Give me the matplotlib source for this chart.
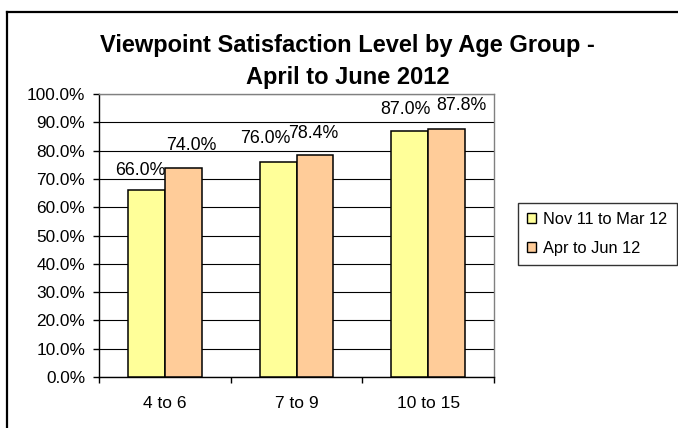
import matplotlib
matplotlib.use("Agg")
import matplotlib.pyplot as plt
from matplotlib.patches import Patch
from matplotlib.lines import Line2D
from matplotlib.ticker import FuncFormatter, MultipleLocator, FixedLocator

# Data
categories = ["4 to 6", "7 to 9", "10 to 15"]
series_names = ["Nov 11 to Mar 12", "Apr to Jun 12"]
nov_mar = [66.0, 76.0, 87.0]
apr_jun = [74.0, 78.4, 87.8]

# Styling
colors = ["#FFFF99", "#FFCC99"]
label_nudges = [
    [(-6.5, 15), (-12.5, 19), (-4, 17)],
    [(8.5, 17.6), (-1.5, 17), (14.5, 18.5)],
]

plt.rcParams["font.family"] = ["Liberation Sans", "DejaVu Sans"]

W, H = 678, 428
fig = plt.figure(figsize=(W / 100, H / 100), dpi=100)
fig.patch.set_facecolor("white")

# Chart area border (left and top edges visible)
fig.add_artist(Line2D([7 / W, 7 / W], [0, 1 - 12 / H], color="black", lw=1.6,
                      transform=fig.transFigure))
fig.add_artist(Line2D([7 / W, 1], [1 - 12 / H, 1 - 12 / H], color="black", lw=1.6,
                      transform=fig.transFigure))

ax = fig.add_axes([99 / W, (H - 377) / H, 395 / W, 283 / H])

bar_w = 0.28
x = list(range(len(categories)))
for s, (vals, col) in enumerate(zip([nov_mar, apr_jun], colors)):
    xs = [i + (s - 0.5) * bar_w for i in x]
    bars = ax.bar(xs, vals, width=bar_w, color=col, edgecolor="black",
                  linewidth=1.1, zorder=3)
    for b, v, (dx, dy) in zip(bars, vals, label_nudges[s]):
        ax.annotate(f"{v:.1f}%", (b.get_x() + b.get_width() / 2, v),
                    xytext=(dx, dy), textcoords="offset pixels",
                    ha="center", va="baseline", fontsize=12.8, color="black",
                    zorder=4)

ax.set_xlim(-0.5, 2.5)
ax.set_ylim(0, 100)
ax.yaxis.set_major_locator(MultipleLocator(10))
ax.yaxis.set_major_formatter(FuncFormatter(lambda v, p: f"{v:.1f}%"))
ax.grid(axis="y", color="black", linewidth=0.8, zorder=1)
ax.set_axisbelow(True)

ax.set_xticks(x)
ax.set_xticklabels(categories)
ax.xaxis.set_minor_locator(FixedLocator([-0.5, 0.5, 1.5, 2.5]))
ax.tick_params(axis="x", which="major", length=0, pad=13.5, labelsize=12.5)
ax.tick_params(axis="x", which="minor", length=4, width=1, direction="out")
ax.tick_params(axis="y", length=4, width=1, direction="out", pad=6, labelsize=12.4)

for side in ["top", "right"]:
    ax.spines[side].set_color("#808080")
    ax.spines[side].set_linewidth(1)
for side in ["left", "bottom"]:
    ax.spines[side].set_color("black")
    ax.spines[side].set_linewidth(1)

# Title (two lines)
fig.text(347.5 / W, 1 - 52 / H, "Viewpoint Satisfaction Level by Age Group -",
         ha="center", va="baseline", fontsize=17, fontweight="bold")
fig.text(347.5 / W, 1 - 84 / H, "April to June 2012",
         ha="center", va="baseline", fontsize=17, fontweight="bold")

# Legend
handles = [Patch(facecolor=c, edgecolor="black", linewidth=1) for c in colors]
leg = fig.legend(handles, series_names, loc="upper left",
                 bbox_to_anchor=(518 / W, 1 - 203 / H), borderaxespad=0,
                 frameon=True, fancybox=False, fontsize=11.8,
                 handlelength=0.55, handleheight=0.55, handletextpad=0.45,
                 labelspacing=0.85, borderpad=0.55)
leg.get_frame().set_edgecolor("black")
leg.get_frame().set_linewidth(1)

fig.savefig("out.png", dpi=100, facecolor="white")
